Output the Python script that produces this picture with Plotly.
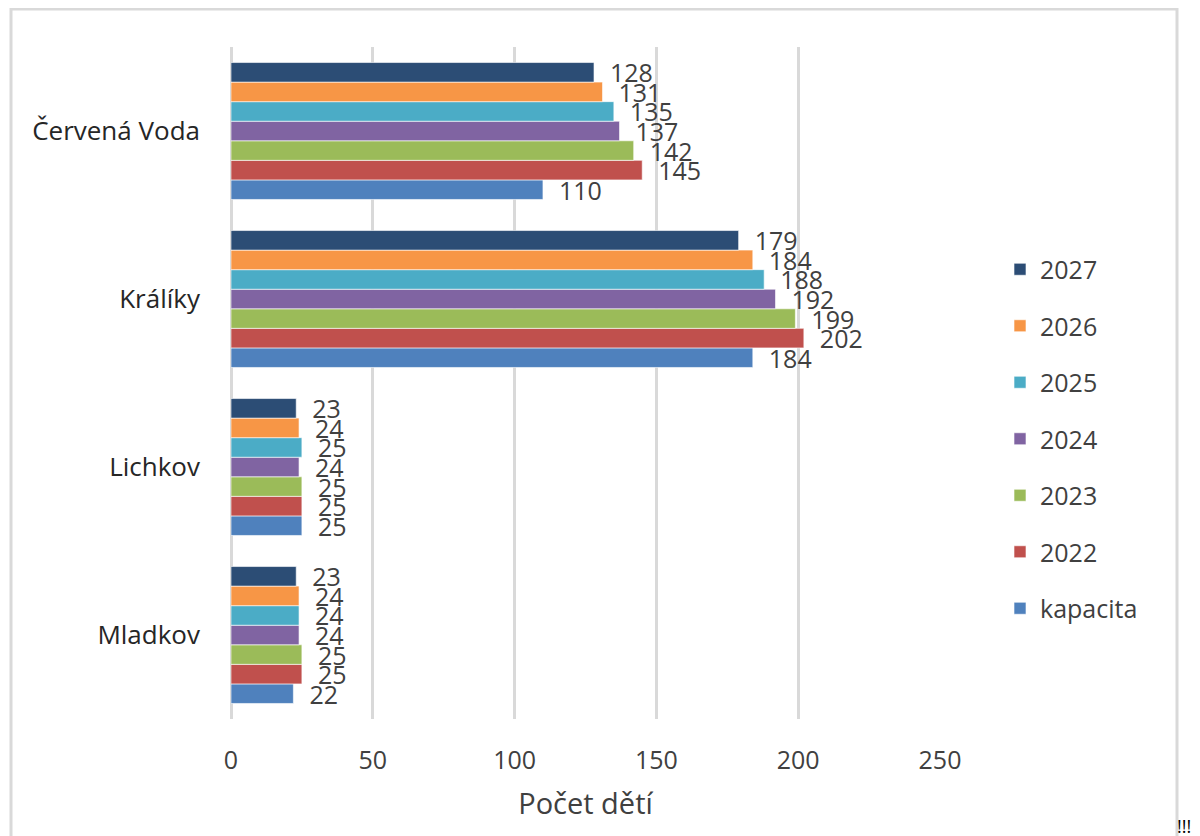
import plotly.graph_objects as go

# categories from bottom to top (plot order)
categories = ["Mladkov", "Lichkov", "Králíky", "Červená Voda"]
series_names = ["kapacita", "2022", "2023", "2024", "2025", "2026", "2027"]
kapacita = [22, 25, 184, 110]
y2022 = [25, 25, 202, 145]
y2023 = [25, 25, 199, 142]
y2024 = [24, 24, 192, 137]
y2025 = [24, 25, 188, 135]
y2026 = [24, 24, 184, 131]
y2027 = [23, 23, 179, 128]
series_values = [kapacita, y2022, y2023, y2024, y2025, y2026, y2027]
colors = ["#4F81BD", "#C0504D", "#9BBB59", "#8064A2", "#4BACC6", "#F79646", "#2C4D75"]
x_ticks = [0, 50, 100, 150, 200, 250]

FONT = "Open Sans"
TXT = "#404040"

fig = go.Figure()
n = len(series_names)
for i, (name, vals, col) in enumerate(zip(series_names, series_values, colors)):
    fig.add_trace(go.Bar(
        y=categories, x=vals, name=name, orientation="h",
        marker=dict(color=col, line=dict(color="rgba(255,255,255,0.6)", width=1)),
        text=vals, texttemplate="\u00a0\u00a0%{x}", textposition="outside",
        constraintext="none", cliponaxis=False,
        textfont=dict(family=FONT, size=25, color=TXT),
        legendgroup=name, legendrank=n - i,
    ))

# the page body adds an 8 px offset; positions below are reference pixels minus 8
OFF = 8
W, H = 1200, 836
L, R, T, B = 231 - OFF, 940 - OFF, 47 - OFF, 719 - OFF
pw, ph = R - L, B - T

def px(x):
    return (x - OFF - L) / pw

def py(y):
    return (B - (y - OFF)) / ph

fig.update_layout(
    width=W, height=H,
    margin=dict(l=L, r=W - R, t=T, b=H - B),
    paper_bgcolor="white", plot_bgcolor="white",
    barmode="group", bargap=0.185, bargroupgap=0,
    font=dict(family=FONT, color=TXT),
    legend=dict(
        traceorder="grouped", tracegroupgap=21,
        x=px(1000), y=py(439), xanchor="left", yanchor="middle",
        font=dict(family=FONT, size=25, color=TXT),
        itemwidth=30, bgcolor="rgba(0,0,0,0)",
    ),
    xaxis=dict(
        range=[0, 250], tickvals=x_ticks, showgrid=True,
        gridcolor="#D9D9D9", gridwidth=2.5, zeroline=True,
        zerolinecolor="#D9D9D9", zerolinewidth=2.5,
        ticks="", ticklabelstandoff=24,
        tickfont=dict(family=FONT, size=25, color=TXT),
        title=dict(text="Počet dětí", standoff=18,
                   font=dict(family=FONT, size=29, color=TXT)),
        fixedrange=True, automargin=False,
    ),
    yaxis=dict(
        categoryorder="array", categoryarray=categories,
        showgrid=False, ticks="", ticklabelstandoff=30,
        tickfont=dict(family=FONT, size=26, color="#262626"),
        automargin=False, fixedrange=True,
    ),
    shapes=[
        dict(type="rect", xref="paper", yref="paper",
             x0=px(11), x1=px(1177), y0=py(9), y1=py(860),
             line=dict(color="#D9D9D9", width=3), layer="below"),
    ],
    annotations=[
        dict(text="!!!", xref="paper", yref="paper", x=px(1175), y=py(812),
             xanchor="left", yanchor="top", showarrow=False,
             font=dict(family=FONT, size=18, color="#000000")),
    ],
)

fig.write_html("out.html")
